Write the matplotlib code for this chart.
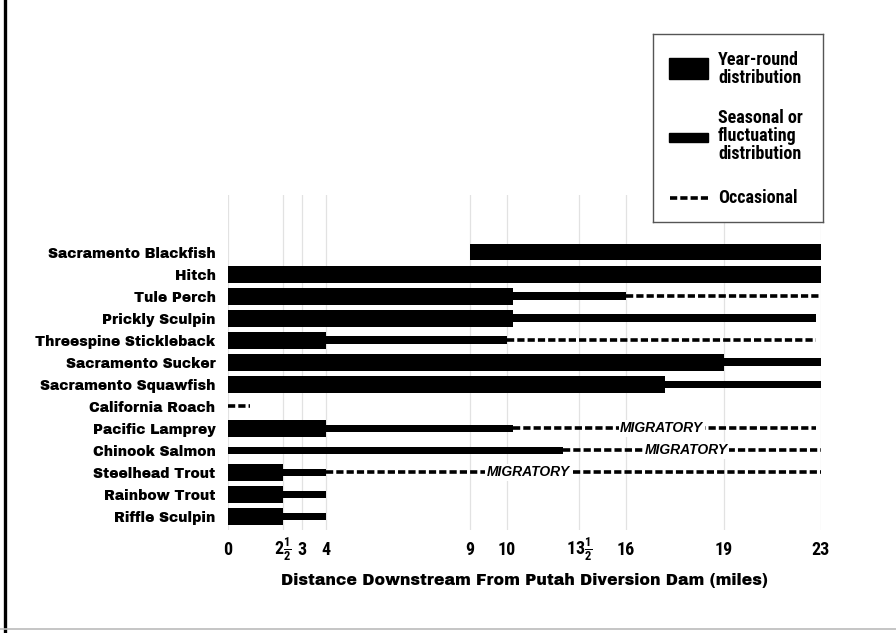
import numpy as np
import matplotlib
matplotlib.use("Agg")
import matplotlib.pyplot as plt
from matplotlib.patches import Rectangle
from matplotlib.lines import Line2D

# ---------------- data ----------------
species = ["Sacramento Blackfish", "Hitch", "Tule Perch", "Prickly Sculpin",
           "Threespine Stickleback", "Sacramento Sucker", "Sacramento Squawfish",
           "California Roach", "Pacific Lamprey", "Chinook Salmon",
           "Steelhead Trout", "Rainbow Trout", "Riffle Sculpin"]
nan = np.nan
yr_start = [9, 0, 0, 0, 0, 0, 0, nan, 0, nan, 0, 0, 0]
yr_end   = [23, 23, 10.3, 10.3, 4, 19, 17.2, nan, 4, nan, 2.5, 2.5, 2.5]
se_start = [nan, nan, 10.3, 10.3, 4, 19, 17.2, nan, 4, 0, 2.5, 2.5, 2.5]
se_end   = [nan, nan, 16, 22.8, 10, 23, 23, nan, 10.3, 12.7, 4, 4, 4]
oc_start = [nan, nan, 16, nan, 10, nan, nan, 0, 10.3, 12.7, 4, nan, nan]
oc_end   = [nan, nan, 23, nan, 22.8, nan, nan, 1, 22.8, 23, 23, nan, nan]
migratory_species = ["Pacific Lamprey", "Chinook Salmon", "Steelhead Trout"]
migratory_pos = [17.1, 17.85, 11.05]

tick_miles = [0, 2.5, 3, 4, 9, 10, 13.5, 16, 19, 23]
tick_labels = ["0", r"$2\frac{1}{2}$", "3", "4", "9", "10", r"$13\frac{1}{2}$", "16", "19", "23"]
# relative drawing position of each gridline along the (hand-drawn) axis
tick_frac = [0, 0.0927, 0.1248, 0.165, 0.408, 0.470, 0.592, 0.671, 0.836, 1.0]

# ---------------- style ----------------
plt.rcParams["mathtext.fontset"] = "custom"
plt.rcParams["mathtext.rm"] = "Roboto Condensed:bold"
plt.rcParams["mathtext.bf"] = "Roboto Condensed:bold"
plt.rcParams["mathtext.it"] = "Roboto Condensed:bold"
NARROW = ["Roboto Condensed", "DejaVu Sans"]
HEAVY = ["Archivo Black", "Liberation Sans", "DejaVu Sans"]
WIDE = ["Liberation Sans", "DejaVu Sans"]

W, H = 896, 633
fig = plt.figure(figsize=(W / 100, H / 100), dpi=100)
fig.patch.set_facecolor("white")

ax = fig.add_axes([228 / W, 1 - 530 / H, 593 / W, 335 / H])
fwd = lambda x: np.interp(x, tick_miles, tick_frac)
inv = lambda y: np.interp(y, tick_frac, tick_miles)
ax.set_xscale("function", functions=(fwd, inv))
ax.set_xlim(0, 23)
ax.set_ylim(12.61, -2.586)

y = np.arange(len(species))
THICK, THIN = 0.77, 0.34
for i in range(len(species)):
    if not np.isnan(yr_start[i]):
        ax.barh(y[i], yr_end[i] - yr_start[i], left=yr_start[i], height=THICK,
                color="black", zorder=3)
    if not np.isnan(se_start[i]):
        ax.barh(y[i], se_end[i] - se_start[i], left=se_start[i], height=THIN,
                color="black", zorder=3)
    if not np.isnan(oc_start[i]):
        ax.plot([oc_start[i], oc_end[i]], [y[i], y[i]], color="black", lw=2.6,
                linestyle=(0, (2.0, 0.85)), dash_capstyle="butt",
                solid_capstyle="butt", zorder=3)

for sp, pos in zip(migratory_species, migratory_pos):
    ax.text(pos, species.index(sp), "MIGRATORY", ha="center", va="center",
            family=WIDE, fontweight="bold", fontstyle="italic", fontsize=10,
            zorder=5, bbox=dict(facecolor="white", edgecolor="none", pad=1.2))

ax.set_yticks(y)
ax.set_yticklabels(species, family=HEAVY, fontsize=10)
ax.set_xticks(tick_miles)
ax.set_xticklabels(tick_labels, family=NARROW, fontweight="bold", fontsize=13)
for lab in ax.get_xticklabels():
    lab.set_verticalalignment("baseline")
ax.tick_params(axis="both", length=0)
ax.tick_params(axis="y", pad=9)
ax.tick_params(axis="x", pad=18)
ax.grid(axis="x", color="#e2e2e2", lw=0.9, zorder=0)
ax.grid(axis="y", visible=False)
for s in ax.spines.values():
    s.set_visible(False)
ax.set_xlabel("Distance Downstream From Putah Diversion Dam (miles)",
              family=HEAVY, fontsize=11.3, labelpad=7)

# ---------------- legend box ----------------
lax = fig.add_axes([653 / W, 1 - 222 / H, 170 / W, 188 / H])
lax.set_xlim(0, 170)
lax.set_ylim(188, 0)
lax.set_xticks([])
lax.set_yticks([])
for s in lax.spines.values():
    s.set_color("#555555")
    s.set_linewidth(1.0)
lax.add_patch(Rectangle((16, 24), 39, 21, color="black"))
lax.add_patch(Rectangle((16, 99), 39, 9, color="black"))
lax.plot([17, 55], [164, 164], color="black", lw=2.6,
         linestyle=(0, (2.0, 0.85)), dash_capstyle="butt")
tkw = dict(family=NARROW, fontweight="bold", fontsize=13, va="center",
           ha="left", linespacing=0.98)
lax.text(65, 35, "Year-round\ndistribution", **tkw)
lax.text(65, 102, "Seasonal or\nfluctuating\ndistribution", **tkw)
lax.text(65, 164, "Occasional", **tkw)

# ---------------- page frame ----------------
fig.add_artist(Line2D([4.5 / W, 4.5 / W], [0, 1], color="black", lw=2.4,
                      transform=fig.transFigure))
fig.add_artist(Line2D([0, 1], [1 - 629 / H, 1 - 629 / H], color="#bbbbbb",
                      lw=1.2, transform=fig.transFigure))

fig.savefig("out.png", dpi=100)
